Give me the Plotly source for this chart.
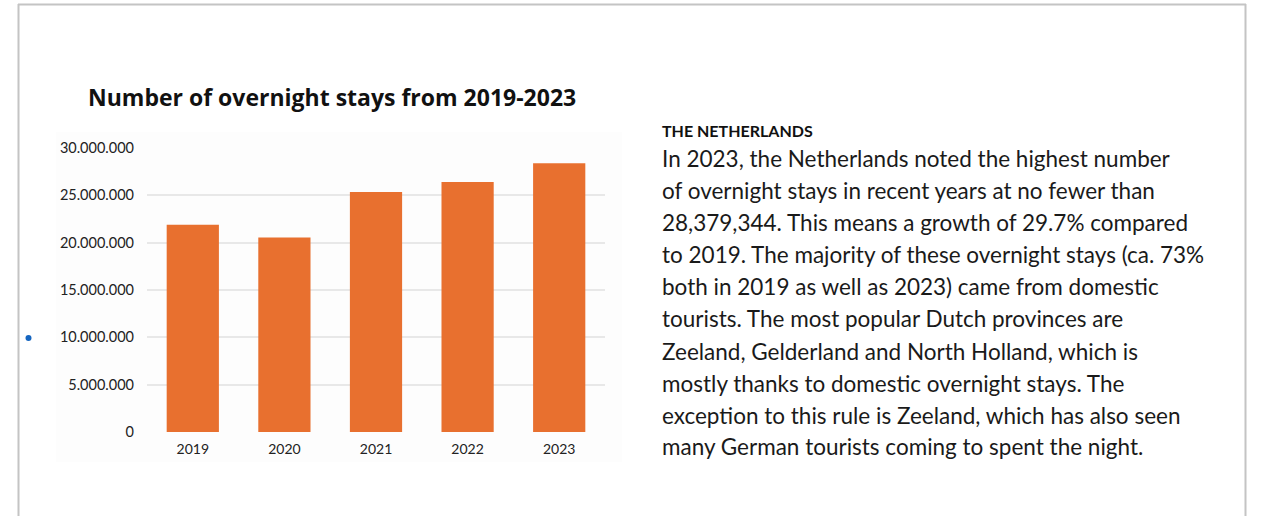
import plotly.graph_objects as go

# Overnight stays in the Netherlands
years = ["2019", "2020", "2021", "2022", "2023"]
stays = [21880000, 20550000, 25350000, 26400000, 28379344]
y_ticks = [0, 5000000, 10000000, 15000000, 20000000, 25000000, 30000000]
y_tick_labels = ["0", "5.000.000", "10.000.000", "15.000.000", "20.000.000", "25.000.000", "30.000.000"]

chart_title = "Number of overnight stays from 2019-2023"
heading = "THE NETHERLANDS"
body_lines = [
    "In 2023, the Netherlands noted the highest number",
    "of overnight stays in recent years at no fewer than",
    "28,379,344. This means a growth of 29.7% compared",
    "to 2019. The majority of these overnight stays (ca. 73%",
    "both in 2019 as well as 2023) came from domestic",
    "tourists. The most popular Dutch provinces are",
    "Zeeland, Gelderland and North Holland, which is",
    "mostly thanks to domestic overnight stays. The",
    "exception to this rule is Zeeland, which has also seen",
    "many German tourists coming to spent the night.",
]

W, H = 1264, 516
L, R, T, B = 147, 605, 148, 432  # plot area in pixels


def px(x):
    return (x - L) / (R - L)


def py(y):
    return (B - y) / (B - T)


fig = go.Figure(
    go.Bar(
        x=years,
        y=stays,
        marker=dict(color="#E8702F", line=dict(width=0)),
        width=0.57,
        hoverinfo="x+y",
    )
)

shapes = [
    # faint panel behind the chart
    dict(type="rect", xref="paper", yref="paper", x0=px(56), x1=px(622), y0=py(132), y1=py(462),
         fillcolor="#fdfdfd", line=dict(width=0), layer="below"),
    # frame lines
    dict(type="line", xref="paper", yref="paper", x0=px(18), x1=px(1246), y0=py(4.5), y1=py(4.5),
         line=dict(color="#c4c4c4", width=2)),
    dict(type="line", xref="paper", yref="paper", x0=px(18.5), x1=px(18.5), y0=py(4), y1=py(520),
         line=dict(color="#c4c4c4", width=2)),
    dict(type="line", xref="paper", yref="paper", x0=px(1245.5), x1=px(1245.5), y0=py(4), y1=py(520),
         line=dict(color="#c4c4c4", width=2)),
    # bullet dot
    dict(type="circle", xref="paper", yref="paper", x0=px(25.5), x1=px(31.5), y0=py(335), y1=py(341),
         fillcolor="#1565c0", line=dict(width=0)),
]

annotations = [
    dict(text="<b>" + chart_title + "</b>", xref="paper", yref="paper", x=px(332), y=py(97),
         xanchor="center", yanchor="middle", showarrow=False,
         font=dict(family="Open Sans", size=23, color="#111111")),
    dict(text="<b>" + heading + "</b>", xref="paper", yref="paper", x=px(660), y=py(130),
         xanchor="left", yanchor="middle", showarrow=False,
         font=dict(family="Lato", size=16, color="#111111")),
]
line_y = [158, 190, 222, 254, 286, 318, 351, 383, 415, 446]
for txt, yy in zip(body_lines, line_y):
    annotations.append(
        dict(text=txt, xref="paper", yref="paper", x=px(660), y=py(yy),
             xanchor="left", yanchor="middle", showarrow=False,
             font=dict(family="Lato", size=22.5, color="#1a1a1a"))
    )

fig.update_layout(
    width=W, height=H,
    margin=dict(l=L, r=W - R, t=T, b=H - B, pad=0),
    paper_bgcolor="white", plot_bgcolor="rgba(0,0,0,0)",
    showlegend=False,
    bargap=0.43,
    shapes=shapes,
    annotations=annotations,
    font=dict(family="Lato", color="#222222"),
    xaxis=dict(
        showgrid=False, zeroline=False, showline=False, ticks="",
        tickfont=dict(family="Lato", size=14, color="#222222"),
        ticklabelstandoff=7,
    ),
    yaxis=dict(
        range=[0, 30000000], tickvals=y_ticks, ticktext=y_tick_labels,
        showgrid=True, gridcolor="#e8e8e8", gridwidth=2,
        zeroline=False, showline=False, ticks="",
        tickfont=dict(family="Lato", size=14.5, color="#222222"),
        ticklabelstandoff=12,
    ),
)

fig.write_html("out.html")
